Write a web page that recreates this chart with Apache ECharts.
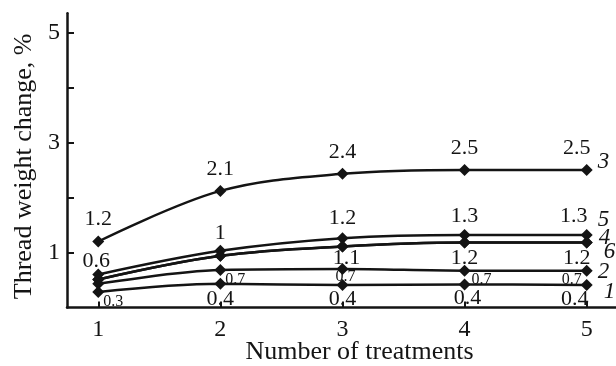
<!DOCTYPE html>
<html><head><meta charset="utf-8">
<script src="https://cdn.jsdelivr.net/npm/echarts@6/dist/echarts.min.js"></script>
<style>html,body{margin:0;padding:0;background:#fff}#c{width:616px;height:366px}</style>
</head><body><div id="c"></div>
<script>
// ---- data ----
const treatments = [1, 2, 3, 4, 5];
const curve3 = [1.2, 2.12, 2.43, 2.5, 2.5];
const curve5 = [0.6, 1.03, 1.26, 1.32, 1.32];
const curve4 = [0.51, 0.94, 1.11, 1.18, 1.18];
const curve6 = [0.51, 0.94, 1.11, 1.18, 1.18];
const curve2 = [0.43, 0.68, 0.7, 0.67, 0.67];
const curve1 = [0.28, 0.43, 0.41, 0.42, 0.41];
const text3 = ['1.2', '2.1', '2.4', '2.5', '2.5'];
const text5 = ['0.6', '1', '1.2', '1.3', '1.3'];
const text4 = ['', '', '1.1', '1.2', '1.2'];
const text6 = ['', '', '', '', ''];
const text2 = ['', '0.7', '0.7', '0.7', '0.7'];
const text1 = ['0.3', '0.4', '0.4', '0.4', '0.4'];
const yTickValues = [1, 2, 3, 4, 5];
const yLabelValues = [1, 3, 5];
const xTickValues = [1, 2, 3, 4, 5];

// ---- styles ----
const FONT = '"Liberation Serif", "Times New Roman", serif';
const INK = '#141414';
const big = (pos, d, off) => ({ position: pos, distance: d, offset: off || [0, 0], fontSize: 22 });
const small = (off) => ({ position: 'inside', offset: off, fontSize: 16 });
const style3 = [big('top', 5), big('top', 5), big('top', 5), big('top', 5), big('top', 5, [-10, 0])];
const style5 = [big('top', -4, [-2, 0]), big('top', 1), big('top', 3), big('top', 2), big('top', 2, [-13, 0])];
const style4 = [null, null, big('bottom', -5, [4, 0]), big('bottom', -1), big('bottom', -1, [-10, 0])];
const style6 = [null, null, null, null, null];
const style2 = [null, small([15, 10]), small([3, 8]), small([17, 9]), small([-15, 9])];
const style1 = [small([15, 10]), big('bottom', -2), big('bottom', -3), big('bottom', -3, [3, 0]), big('bottom', -3, [-12, 0])];

function mk(name, vals, texts, styles, endOff) {
  return {
    name: name,
    type: 'line',
    smooth: 0.35,
    symbol: 'diamond',
    symbolSize: 12,
    z: 3,
    lineStyle: { color: INK, width: 2.5 },
    itemStyle: { color: INK },
    data: vals.map((v, i) => {
      const st = styles[i];
      const item = { value: [treatments[i], v] };
      if (st && texts[i]) {
        item.label = Object.assign({
          show: true,
          formatter: texts[i],
          color: INK,
          fontFamily: FONT
        }, st);
      }
      return item;
    }),
    label: { show: false },
    endLabel: {
      show: true,
      formatter: name,
      color: INK,
      fontFamily: FONT,
      fontStyle: 'italic',
      fontSize: 23,
      distance: 11,
      offset: endOff
    }
  };
}

const chart = echarts.init(document.getElementById('c'), null, { renderer: 'canvas' });
chart.setOption({
  animation: false,
  backgroundColor: '#fff',
  grid: { left: 67, right: 0, top: 13.25, bottom: 58.5, containLabel: false, outerBoundsMode: 'none' },
  xAxis: {
    type: 'value',
    min: 0.744,
    max: 5.24,
    name: 'Number of treatments',
    nameLocation: 'middle',
    nameGap: 32,
    nameMoveOverlap: false,
    nameTextStyle: { fontFamily: FONT, fontSize: 26, color: INK, padding: [0, 0, 0, 36] },
    axisLine: { show: true, lineStyle: { color: INK, width: 2.5 } },
    axisTick: { show: true, inside: true, length: 6, customValues: xTickValues, lineStyle: { color: INK, width: 2 } },
    axisLabel: { customValues: xTickValues, margin: 10, fontFamily: FONT, fontSize: 24, color: INK },
    splitLine: { show: false }
  },
  yAxis: {
    type: 'value',
    min: 0,
    max: 5.35,
    name: 'Thread weight change, %',
    nameLocation: 'middle',
    nameGap: 30,
    nameMoveOverlap: false,
    nameTextStyle: { fontFamily: FONT, fontSize: 26, color: INK, padding: [0, 12, 0, 0] },
    axisLine: { show: true, lineStyle: { color: INK, width: 2.5 } },
    axisTick: { show: true, inside: true, length: 7, customValues: yTickValues, lineStyle: { color: INK, width: 2 } },
    axisLabel: { customValues: yLabelValues, margin: 7, fontFamily: FONT, fontSize: 24, color: INK },
    splitLine: { show: false }
  },
  series: [
    mk('3', curve3, text3, style3, [0, -8]),
    mk('5', curve5, text5, style5, [0, -15]),
    mk('4', curve4, text4, style4, [1, -5]),
    mk('6', curve6, text6, style6, [6, 9]),
    mk('2', curve2, text2, style2, [0, 1]),
    mk('1', curve1, text1, style1, [6, 7])
  ]
});
</script>
</body></html>
